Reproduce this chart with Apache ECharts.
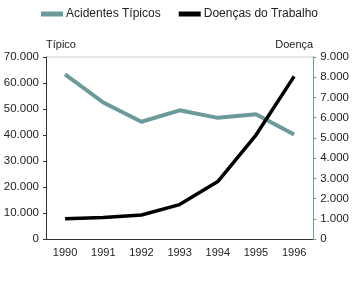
<!DOCTYPE html>
<html>
<head>
<meta charset="utf-8">
<script src="https://cdn.jsdelivr.net/npm/echarts@6/dist/echarts.min.js"></script>
<style>
  html, body { margin: 0; padding: 0; background: #fff; }
  #chart { width: 352px; height: 283px; }
</style>
</head>
<body>
<div id="chart"></div>
<script>
// years on the x axis
var years = ['1990', '1991', '1992', '1993', '1994', '1995', '1996'];
// left axis: acidentes tipicos
var tipicos = [63300, 52500, 45100, 49500, 46600, 48000, 40200];
// right axis: doencas do trabalho
var doencas = [1000, 1060, 1190, 1700, 2840, 5140, 8040];

var tealColor = '#6b9a9a';
var textColor = '#222';

// 70000 -> "70.000"
var fmtDot = function(v) {
    return String(v).replace(/\B(?=(\d{3})+(?!\d))/g, '.');
};

var myChart = echarts.init(document.getElementById('chart'));

var option = {
    animation: false,
    textStyle: { fontFamily: 'Liberation Sans, Arial, sans-serif' },
    legend: {
        top: 3,
        left: 36,
        itemGap: 18,
        itemWidth: 22,
        itemHeight: 5,
        icon: 'rect',
        textStyle: { fontSize: 12, color: textColor, padding: [0, 0, 0, -2] },
        data: ['Acidentes Típicos', 'Doenças do Trabalho']
    },
    grid: { left: 46, right: 37, top: 57, bottom: 44 },
    xAxis: {
        type: 'category',
        data: years,
        boundaryGap: true,
        axisLine: { lineStyle: { color: '#333', width: 1 } },
        axisTick: { inside: true, length: 4, lineStyle: { color: '#333' } },
        axisLabel: { color: textColor, fontSize: 11, margin: 8 }
    },
    yAxis: [
        {
            type: 'value',
            min: 0, max: 70000, interval: 10000,
            name: 'Típico',
            nameLocation: 'end',
            nameGap: 7,
            nameTextStyle: { color: textColor, fontSize: 11, align: 'left' },
            axisLine: { show: true, lineStyle: { color: '#333' } },
            axisTick: { show: true, length: 3, lineStyle: { color: '#333' } },
            axisLabel: { color: textColor, fontSize: 11.5, margin: 7, formatter: fmtDot },
            splitLine: { show: false }
        },
        {
            type: 'value',
            min: 0, max: 9000, interval: 1000,
            name: 'Doença',
            nameLocation: 'end',
            nameGap: 7,
            nameTextStyle: { color: textColor, fontSize: 11, align: 'right' },
            axisLine: { show: true, lineStyle: { color: tealColor } },
            axisTick: { show: true, length: 3, lineStyle: { color: tealColor } },
            axisLabel: { color: textColor, fontSize: 11.5, margin: 7, formatter: fmtDot },
            splitLine: { show: false }
        }
    ],
    graphic: [
        // light frame line on top of the plot
        {
            type: 'line',
            shape: { x1: 46, y1: 57, x2: 315, y2: 57 },
            style: { stroke: '#ccc', lineWidth: 1 }
        }
    ],
    series: [
        {
            name: 'Acidentes Típicos',
            type: 'line',
            yAxisIndex: 0,
            data: tipicos,
            symbol: 'none',
            color: tealColor,
            lineStyle: { width: 4, color: tealColor }
        },
        {
            name: 'Doenças do Trabalho',
            type: 'line',
            yAxisIndex: 1,
            data: doencas,
            symbol: 'none',
            color: '#000',
            lineStyle: { width: 3.5, color: '#000' }
        }
    ]
};

myChart.setOption(option);
</script>
</body>
</html>
